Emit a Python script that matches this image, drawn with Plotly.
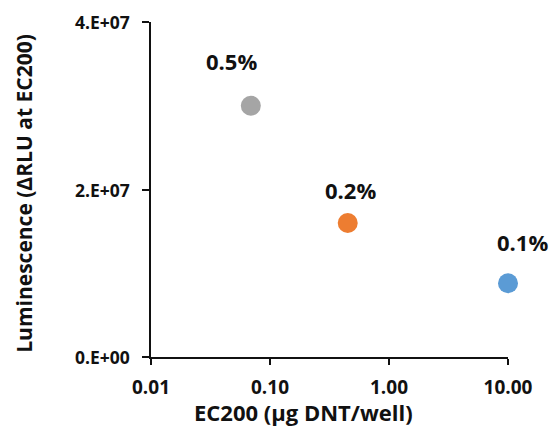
import math
import plotly.graph_objects as go

labels = ["0.5%", "0.2%", "0.1%"]
ec200 = [0.069, 0.45, 10.0]
luminescence = [3.0e7, 1.6e7, 0.88e7]
colors = ["#A5A5A5", "#ED7D31", "#5B9BD5"]
label_xshift = [-19, 3, 14]
label_yshift = [45, 33, 41]

x_tickvals = [0.01, 0.1, 1, 10]
x_ticktext = ["0.01", "0.10", "1.00", "10.00"]
y_tickvals = [0, 2e7, 4e7]
y_ticktext = ["0.E+00", "2.E+07", "4.E+07"]

x_title = "EC200 (µg DNT/well)"
y_title = "Luminescence (ΔRLU at EC200)"

font_family = "Open Sans, Liberation Sans, sans-serif"
ink = "#111111"

fig = go.Figure()
fig.add_trace(go.Scatter(
    x=ec200, y=luminescence, mode="markers",
    marker=dict(size=20, color=colors, line=dict(width=0)),
    showlegend=False, hoverinfo="skip", cliponaxis=False,
))

for lab, xv, yv, dx, dy in zip(labels, ec200, luminescence, label_xshift, label_yshift):
    fig.add_annotation(x=math.log10(xv), y=yv, xref="x", yref="y", text=f"<b>{lab}</b>",
                       showarrow=False, xshift=dx, yshift=dy,
                       font=dict(size=22, color=ink, family=font_family))

# y tick labels, placed at the axis' tick values (Excel leaves a wider gap than Plotly)
for tv, tt in zip(y_tickvals, y_ticktext):
    fig.add_annotation(x=0, y=tv, xref="paper", yref="y", text=f"<b>{tt}</b>",
                       showarrow=False, xanchor="right", yanchor="middle", xshift=-19,
                       font=dict(size=17.5, color=ink, family=font_family))

# axis titles (Excel-style placement)
fig.add_annotation(x=0.426, y=-0.164, xref="paper", yref="paper", text=f"<b>{x_title}</b>",
                   showarrow=False, xanchor="center", yanchor="middle",
                   font=dict(size=22, color=ink, family=font_family))
fig.add_annotation(x=-0.356, y=0.49, xref="paper", yref="paper", text=f"<b>{y_title}</b>",
                   showarrow=False, xanchor="center", yanchor="middle", textangle=-90,
                   font=dict(size=21, color=ink, family=font_family))

fig.update_layout(
    width=550, height=439,
    margin=dict(l=151, r=42, t=22, b=82),
    paper_bgcolor="white", plot_bgcolor="white",
    font=dict(family=font_family, color=ink),
)
fig.update_xaxes(
    type="log", range=[-2, 1], automargin=False,
    tickvals=x_tickvals, ticktext=x_ticktext,
    showgrid=False, zeroline=False,
    showline=True, linecolor=ink, linewidth=1.5,
    ticks="outside", ticklen=6, tickcolor=ink, tickwidth=1.5,
    ticklabelstandoff=6,
    tickfont=dict(size=19, family=font_family, weight="bold"),
)
fig.update_yaxes(
    range=[0, 4e7], automargin=False,
    tickvals=y_tickvals, showticklabels=False,
    showgrid=False, zeroline=False,
    showline=True, linecolor=ink, linewidth=1.5,
    ticks="outside", ticklen=7, tickcolor=ink, tickwidth=1.5,
)

fig.write_html("out.html", config={"displayModeBar": False},
               post_script="document.body.style.margin='0';document.body.style.overflow='hidden';")
